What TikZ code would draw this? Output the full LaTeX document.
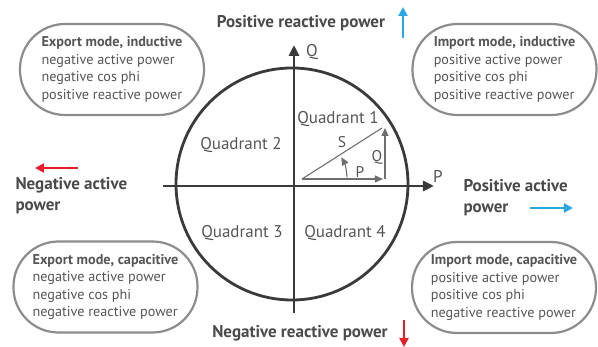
\documentclass[tikz,border=0pt]{standalone}
\usepackage{fontspec}
\setmainfont{PT Sans}
\usetikzlibrary{arrows.meta}

\definecolor{axisgray}{HTML}{3A3A3A}
\definecolor{vecgray}{HTML}{6E6E6E}
\definecolor{boxgray}{HTML}{8C8C8C}
\definecolor{txtgray}{HTML}{555555}
\definecolor{titlegray}{HTML}{4A4A4A}
\definecolor{posblue}{HTML}{29A8E0}
\definecolor{negred}{HTML}{E5202A}

\begin{document}
\begin{tikzpicture}[x=1pt, y=1pt,
  mode/.style={draw=boxgray, line width=2.2pt, rounded corners=45pt, minimum width=184pt, minimum height=91pt, align=left, text=txtgray, font=\fontsize{14.2}{17.5}\selectfont, inner sep=0pt},
  axis/.style={-{Triangle[length=11pt,width=10pt]}, line width=2.8pt, draw=axisgray},
  vec/.style={-{Triangle[length=8pt,width=7pt]}, line width=1.1pt, draw=vecgray},
  lbl/.style={text=txtgray, font=\fontsize{17}{20}\selectfont},
  small/.style={text=txtgray, font=\fontsize{15.5}{18}\selectfont},
  title/.style={text=titlegray, font=\bfseries\fontsize{17}{21}\selectfont, align=left},
  dir/.style={-{Triangle[length=9pt,width=9pt]}, line width=2.6pt}
]
\useasboundingbox (-294,-161) rectangle (304,186);

% axes and circle
\draw[axisgray, line width=2.8pt] (-2,2) circle (116);
\coordinate (pl) at (-131,0);
\coordinate (pr) at (140,0);
\coordinate (qb) at (0,-127);
\coordinate (qt) at (0,141);
\draw[axis] (pl) -- (pr);
\draw[axis] (qb) -- (qt);
\node[lbl] (paxis) at (144,10) {P};
\node[lbl] (qaxis) at (18,134) {Q};

% power triangle
\coordinate (o) at (8,7);
\coordinate (pend) at (89,7);
\coordinate (qfoot) at (91,7);
\coordinate (qend) at (91,58);
\coordinate (send) at (88,58);
\draw[vec] (o) -- (pend);
\draw[vec] (qfoot) -- (qend);
\draw[vecgray, line width=1.1pt] (o) -- (send);
\coordinate (phi) at ([shift={(2:45)}]o);
\draw[vec] (phi) arc[start angle=2, end angle=29, radius=45];
\node[small] (slbl) at (48,44) {S};
\node[small] (qlbl) at (83,29) {Q};
\node[small] (plbl) at (66,14) {P};

% quadrants
\node[lbl] (q1) at (44,67) {Quadrant 1};
\node[lbl] (q2) at (-53,41) {Quadrant 2};
\node[lbl] (q3) at (-52,-47) {Quadrant 3};
\node[lbl] (q4) at (51,-47) {Quadrant 4};

% direction labels
\node[title] (posq) at (7,163) {Positive reactive power};
\node[title] (negq) at (6,-147) {Negative reactive power};
\node[title, anchor=west] (negp) at (-282,-10) {Negative active\\power};
\node[title, anchor=west] (posp) at (166,-12) {Positive active\\power};

\coordinate (bu0) at (109,148);
\coordinate (bu1) at (109,179);
\coordinate (rd0) at (110,-134);
\coordinate (rd1) at (110,-161);
\coordinate (rl0) at (-216,18);
\coordinate (rl1) at (-259,18);
\coordinate (br0) at (236,-22);
\coordinate (br1) at (279,-22);
\draw[dir, posblue] (bu0) -- (bu1);
\draw[dir, negred] (rd0) -- (rd1);
\draw[dir, negred] (rl0) -- (rl1);
\draw[dir, posblue] (br0) -- (br1);

% operating modes
\node[mode] (expind) at (-182,116.5) {\textbf{Export mode, inductive}\\negative active power\\negative cos phi\\positive reactive power};
\node[mode] (impind) at (210.5,116.5) {\textbf{Import mode, inductive}\\positive active power\\positive cos phi\\positive reactive power};
\node[mode] (expcap) at (-188.5,-101) {\textbf{Export mode, capacitive}\\negative active power\\negative cos phi\\negative reactive power};
\node[mode] (impcap) at (210,-101.5) {\textbf{Import mode, capacitive}\\positive active power\\positive cos phi\\negative reactive power};

\end{tikzpicture}
\end{document}
